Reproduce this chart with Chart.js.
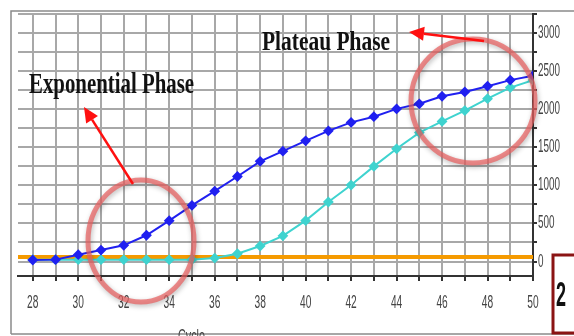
<!DOCTYPE html>
<html><head><meta charset="utf-8">
<script src="https://cdn.jsdelivr.net/npm/chart.js@4"></script>
<style>html,body{margin:0;padding:0;background:#fff;}#wrap{width:574px;height:336px;position:relative;}</style>
</head><body><div id="wrap"><canvas id="c" width="574" height="336"></canvas></div>
<script>
const cycles = [28,29,30,31,32,33,34,35,36,37,38,39,40,41,42,43,44,45,46,47,48,49,50];
const sampleA = [20,25,90,150,213,345,537,737,924,1116,1316,1449,1585,1716,1827,1902,2004,2071,2169,2227,2302,2382,2440];
const sampleB = [25,25,25,25,25,25,25,25,45,102,204,337,537,782,1004,1249,1480,1693,1840,1982,2138,2284,2382];
const thresholdValue = 60;
const yTickValues = [0,250,500,750,1000,1250,1500,1750,2000,2250,2500,2750,3000,3250];
const xTickValues = cycles;
const labelExp = "Exponential Phase";
const labelPlat = "Plateau Phase";
const axisTitle = "Cycle";
const panelNo = "2";

const sans = "'Liberation Sans', Arial, sans-serif";

function pts(vals){ return cycles.map((c,i)=>({x:c,y:vals[i]})); }

// condensed tick labels: the library lays out and draws each label; we only squeeze the glyphs
function condenseLabels(scale, sx, sy){
  if (scale._condensed) return;
  scale._condensed = true;
  const orig = scale.drawLabels.bind(scale);
  scale.drawLabels = function(area){
    const ctx = this.ctx, ft = ctx.fillText;
    ctx.fillText = function(t,x,y){ this.save(); this.translate(x,y); this.scale(sx,sy); ft.call(this,t,0,0); this.restore(); };
    try { orig(area); } finally { ctx.fillText = ft; }
  };
}

const deco = {
  id:'deco',
  beforeDraw(chart){
    const ctx=chart.ctx; ctx.save(); ctx.fillStyle='#fff'; ctx.fillRect(0,0,chart.width,chart.height); ctx.restore();
    condenseLabels(chart.scales.x, 0.68, 1.22);
    condenseLabels(chart.scales.y, 0.66, 1.22);
  },
  afterDraw(chart){
    const ctx=chart.ctx;
    ctx.save();
    // frame
    ctx.strokeStyle='#8a8a8a'; ctx.lineWidth=1.5;
    ctx.beginPath(); ctx.moveTo(11,334); ctx.lineTo(11,11); ctx.lineTo(574,11); ctx.stroke();
    ctx.beginPath(); ctx.moveTo(11,334); ctx.lineTo(574,334); ctx.stroke();
    // circles
    ctx.shadowColor='rgba(0,0,0,0.35)'; ctx.shadowBlur=5; ctx.shadowOffsetX=1; ctx.shadowOffsetY=2;
    ctx.strokeStyle='rgba(232,95,95,0.72)'; ctx.lineWidth=5;
    ctx.beginPath(); ctx.ellipse(141,241,53,61,0,0,Math.PI*2); ctx.stroke();
    ctx.beginPath(); ctx.ellipse(473,101,62,62,0,0,Math.PI*2); ctx.stroke();
    ctx.shadowColor='transparent'; ctx.shadowBlur=0; ctx.shadowOffsetX=0; ctx.shadowOffsetY=0;
    // arrows
    function arrow(x1,y1,x2,y2){
      const a=Math.atan2(y2-y1,x2-x1), L=15, W=7;
      const bx=x2-L*Math.cos(a), by=y2-L*Math.sin(a);
      ctx.strokeStyle='#ff1010'; ctx.fillStyle='#ff1010'; ctx.lineWidth=2.5;
      ctx.beginPath(); ctx.moveTo(x1,y1); ctx.lineTo(bx,by); ctx.stroke();
      ctx.beginPath(); ctx.moveTo(x2,y2);
      ctx.lineTo(bx+W*Math.sin(a), by-W*Math.cos(a));
      ctx.lineTo(bx-W*Math.sin(a), by+W*Math.cos(a));
      ctx.closePath(); ctx.fill();
    }
    arrow(133,184,84,107);
    arrow(484,41,409,32);
    // titles
    function squeezed(text,x,baseline,size,targetW){
      ctx.font='bold '+size+'px "Liberation Serif", "Times New Roman", serif';
      const w=ctx.measureText(text).width;
      ctx.save(); ctx.translate(x,baseline); ctx.scale(targetW/w,1);
      ctx.fillStyle='#111'; ctx.textBaseline='alphabetic'; ctx.textAlign='left';
      ctx.fillText(text,0,0); ctx.restore();
    }
    squeezed(labelExp,29,93,30,165);
    squeezed(labelPlat,262,50,27,128);
    // axis title (cut off at the bottom)
    ctx.save(); ctx.font='15px '+sans; ctx.fillStyle='#444'; ctx.textAlign='left'; ctx.textBaseline='top';
    ctx.translate(178,327); ctx.scale(0.72,1.25); ctx.fillText(axisTitle,0,0); ctx.restore();
    // panel box
    ctx.fillStyle='#fff'; ctx.fillRect(552,254,24,79);
    ctx.strokeStyle='#8b1414'; ctx.lineWidth=3; ctx.strokeRect(553,255,26,78);
    ctx.save(); ctx.font='bold 34px '+sans; const w2=ctx.measureText(panelNo).width;
    ctx.translate(556,306); ctx.scale(10/w2,1.05); ctx.fillStyle='#111'; ctx.textBaseline='alphabetic';
    ctx.fillText(panelNo,0,0); ctx.restore();
    ctx.restore();
  }
};

new Chart(document.getElementById('c'),{
  type:'scatter',
  data:{datasets:[
    {label:'Threshold',data:[{x:27.35,y:thresholdValue},{x:50,y:thresholdValue}],showLine:true,borderColor:'#f59a00',borderWidth:4,pointRadius:0,order:3},
    {label:'B',data:pts(sampleB),showLine:true,borderColor:'#3fd3cf',backgroundColor:'#3fd3cf',borderWidth:2,pointStyle:'rectRot',pointRadius:4,order:2},
    {label:'A',data:pts(sampleA),showLine:true,borderColor:'#2020f0',backgroundColor:'#2020f0',borderWidth:2,pointStyle:'rectRot',pointRadius:4,order:1}
  ]},
  options:{
    responsive:false,animation:false,
    layout:{padding:{left:18,top:14,right:0,bottom:0}},
    plugins:{legend:{display:false},tooltip:{enabled:false}},
    scales:{
      x:{type:'linear',position:'bottom',min:27.35,max:50,
        afterBuildTicks(s){s.ticks=xTickValues.map(v=>({value:v}));},
        afterFit(s){s.height=60;},
        grid:{color:'#a8a8a8',lineWidth:2,tickColor:'#333',tickLength:5,drawOnChartArea:true},
        border:{color:'#333',width:2},
        ticks:{padding:13,color:'#444',font:{family:sans,size:15},maxRotation:0,autoSkip:false,
          callback:v=>(v%2===0?String(v):'')}
      },
      y:{type:'linear',position:'right',min:-190,max:3250,
        afterBuildTicks(s){s.ticks=yTickValues.map(v=>({value:v}));},
        afterFit(s){s.width=41;},
        grid:{color:'#a8a8a8',lineWidth:2,tickColor:'#333',tickLength:4},
        border:{color:'#333',width:2},
        ticks:{padding:1,color:'#444',font:{family:sans,size:15},autoSkip:false,
          callback:v=>(v%500===0&&v<=3000?String(v):'')}
      }
    }
  },
  plugins:[deco]
});
</script></body></html>
